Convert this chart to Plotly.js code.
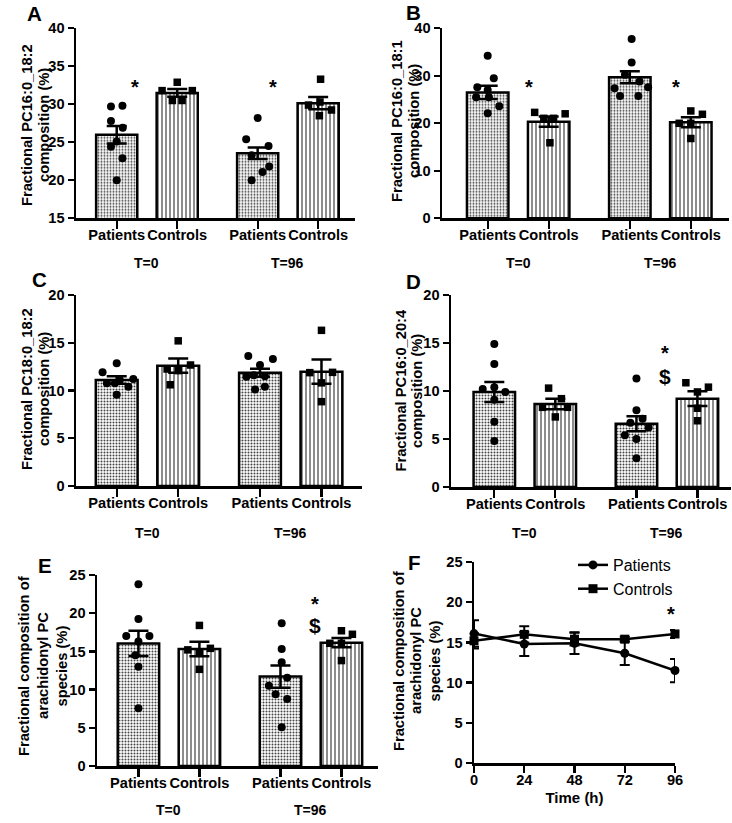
<!DOCTYPE html>
<html><head><meta charset="utf-8">
<script src="https://cdn.plot.ly/plotly-3.0.1.min.js"></script>
<style>html,body{margin:0;padding:0;background:#fff}#chart{width:732px;height:823px}</style>
</head><body><div id="chart"></div>
<script>
// ---------------- DATA ----------------
const groupLabels = ['Patients', 'Controls', 'Patients', 'Controls'];
const timeLabels = ['T=0', 'T=96'];

// Panel A  (bar means, SEM, individual values per bar: P T0, C T0, P T96, C T96)
const A_mean = [26.0, 31.5, 23.55, 30.15];
const A_sem = [1.15, 0.5, 0.75, 0.8];
const A_pts = [
  [29.7, 29.8, 27.8, 26.9, 25.1, 24.4, 22.9, 20.0],
  [31.8, 32.9, 31.8, 30.5, 30.5],
  [28.2, 25.4, 24.5, 23.3, 21.8, 21.1, 20.0],
  [33.3, 29.9, 30.3, 29.25, 28.5]
];
// Panel B
const B_mean = [26.5, 20.35, 29.7, 20.2];
const B_sem = [1.4, 1.1, 1.25, 1.05];
const B_pts = [
  [34.2, 29.5, 27.6, 27.0, 25.5, 25.5, 23.6, 22.1],
  [22.3, 22.0, 21.05, 21.05, 15.9],
  [37.75, 32.8, 30.2, 28.8, 27.6, 27.4, 25.75, 25.75],
  [22.6, 21.9, 20.0, 20.0, 16.8]
];
// Panel C
const C_mean = [11.1, 12.6, 11.87, 11.97];
const C_sem = [0.4, 0.75, 0.42, 1.27];
const C_pts = [
  [12.85, 11.9, 11.2, 11.1, 10.75, 10.75, 10.4, 9.55],
  [15.2, 12.67, 12.25, 12.08, 10.6],
  [13.6, 13.3, 12.67, 11.6, 11.5, 11.45, 10.4, 10.1],
  [16.3, 11.87, 11.9, 10.8, 8.83]
];
// Panel D
const D_mean = [9.9, 8.65, 6.6, 9.2];
const D_sem = [1.05, 0.55, 0.78, 0.77];
const D_pts = [
  [14.9, 12.8, 10.2, 10.4, 9.9, 9.1, 6.8, 4.8],
  [10.3, 9.2, 8.3, 8.3, 7.3],
  [11.3, 8.0, 7.1, 6.7, 6.2, 5.4, 5.0, 3.0],
  [10.86, 10.4, 9.9, 8.2, 6.9]
];
// Panel E
const E_mean = [16.05, 15.3, 11.7, 16.14];
const E_sem = [1.65, 0.95, 1.45, 0.6];
const E_pts = [
  [23.8, 19.25, 17.0, 17.0, 16.3, 14.5, 13.0, 7.55],
  [18.4, 15.2, 15.4, 14.75, 12.65],
  [18.7, 15.3, 13.57, 11.56, 10.5, 9.4, 8.77, 5.06],
  [17.7, 17.24, 16.06, 16.06, 13.8]
];
// Panel F (time course, mean +/- SEM)
const F_time = [0, 24, 48, 72, 96];
const F_pat_mean = [16.1, 14.8, 14.9, 13.65, 11.5];
const F_pat_sem = [1.65, 1.5, 1.35, 1.45, 1.45];
const F_con_mean = [15.2, 16.0, 15.4, 15.4, 16.05];
const F_con_sem = [0.95, 1.0, 0.8, 0.3, 0.5];

// ---------------- LAYOUT HELPERS (positions, not data) ----------------
// horizontal scatter of the individual dots inside each bar (x offset, category units)
const A_jit = [[-0.095,0.095,-0.095,0.1,0,-0.095,0.095,0],[-0.25,0,0.25,-0.08,0.08],[0,-0.19,0.18,-0.1,0.19,0.08,-0.1],[0.04,-0.16,0.03,0.22,0.02]];
const B_jit = [[0,0.1,-0.17,0,-0.19,0.02,0.19,0],[-0.23,0.27,-0.08,0.08,0.02],[0.03,0.03,-0.08,0.16,0.3,-0.25,-0.16,0.14],[0,0.19,-0.19,0,0]];
const C_jit = [[0,-0.23,0.27,0.05,-0.16,-0.03,0.19,0],[0,0.2,-0.18,0,-0.13],[-0.19,0.21,0,-0.1,0.08,-0.22,0.08,-0.08],[0,-0.19,0.18,0,0]];
const D_jit = [[0,0,-0.19,0,0.18,0,0,0],[-0.11,0.1,-0.21,0.2,0],[0,0,0.1,-0.1,0.2,-0.19,0,0],[-0.19,0.18,0,0,0]];
const E_jit = [[0,0,-0.2,0.18,0,-0.05,0,0],[0,-0.19,0.18,0,0],[0.02,0.02,0.02,0.11,-0.19,-0.08,0.11,0.02],[0,0.18,-0.19,0,0]];

const W = 732, H = 823;
const fx = p => p / W, fy = p => 1 - p / H;
const FONT = 'Liberation Sans, Arial, Helvetica, sans-serif';
const slotX = [0, 1, 2.33, 3.33];
const barW = 0.68;

const panels = [
  {letter:'A', mean:A_mean, sem:A_sem, pts:A_pts, jit:A_jit, dx:[76,355], dy:[28.3,218.3], xr:[-0.673,3.939], yr:[15,40], dtick:5,
   lp:[34.7,14], title:['Fractional PC16:0_18:2','composition (%)'], tx:[27,44], ty:125, Ty:263,
   sig:[{x:0.30,y:32.8,t:'*'},{x:2.59,y:32.85,t:'*'}]},
  {letter:'B', mean:B_mean, sem:B_sem, pts:B_pts, jit:B_jit, dx:[442,729], dy:[28.3,218.3], xr:[-0.749,3.956], yr:[0,40], dtick:10,
   lp:[413,13], title:['Fractional PC16:0_18:1','composition (%)'], tx:[397,414], ty:121, Ty:263,
   sig:[{x:0.68,y:28.4,t:'*'},{x:3.09,y:28.4,t:'*'}]},
  {letter:'C', mean:C_mean, sem:C_sem, pts:C_pts, jit:C_jit, dx:[76,362], dy:[295,486], xr:[-0.662,3.989], yr:[0,20], dtick:5,
   lp:[39,280], title:['Fractional PC18:0_18:2','composition (%)'], tx:[27,44], ty:389, Ty:533, sig:[]},
  {letter:'D', mean:D_mean, sem:D_sem, pts:D_pts, jit:D_jit, dx:[451,731], dy:[295,487], xr:[-0.71,3.88], yr:[0,20], dtick:5,
   lp:[413,281], title:['Fractional PC16:0_20:4','composition (%)'], tx:[400.5,417], ty:391, Ty:533,
   sig:[{x:2.8,y:14.4,t:'*'},{x:2.8,y:11.5,t:'$'}]},
  {letter:'E', mean:E_mean, sem:E_sem, pts:E_pts, jit:E_jit, dx:[97,378], dy:[575,766], xr:[-0.68,3.93], yr:[0,25], dtick:5,
   lp:[44.5,565], title:['Fractional composition of','arachidonyl PC','species (%)'], tx:[24,43,61.5], ty:666, Ty:810,
   sig:[{x:2.9,y:21.7,t:'*'},{x:2.9,y:18.45,t:'$'}]}
];

const axisLine = {showline:true, linecolor:'black', linewidth:2.5, ticks:'outside', tickcolor:'black',
  tickwidth:2.2, showgrid:false, zeroline:false, fixedrange:true};
const tickFont = {family:FONT, size:14.6, color:'black', weight:'bold'};

const traces = [];
const annotations = [];
const layout = {
  width:W, height:H, margin:{l:0,r:0,t:0,b:0}, paper_bgcolor:'white', plot_bgcolor:'white',
  showlegend:true, font:{family:FONT, color:'black'},
  legend:{x:fx(573), y:fy(548), xanchor:'left', yanchor:'top', bgcolor:'rgba(0,0,0,0)',
    font:{family:FONT, size:16, color:'black'}, itemwidth:30, tracegroupgap:0},
  annotations:annotations
};

function addTitle(lines, xs, yc) {
  lines.forEach((t, j) => annotations.push({text:t, xref:'paper', yref:'paper', x:fx(xs[j]), y:fy(yc),
    xanchor:'center', yanchor:'middle', textangle:-90, showarrow:false, borderpad:0,
    font:{family:FONT, size:14.7, color:'black', weight:'bold'}}));
}
function addLetter(l, pos) {
  annotations.push({text:l, xref:'paper', yref:'paper', x:fx(pos[0]), y:fy(pos[1]), xanchor:'center', yanchor:'middle',
    showarrow:false, borderpad:0, font:{family:FONT, size:20.5, color:'black', weight:'bold'}});
}

panels.forEach((p, i) => {
  const k = i + 1;
  const xa = 'x' + (k > 1 ? k : ''), ya = 'y' + (k > 1 ? k : '');
  layout['xaxis' + (k > 1 ? k : '')] = Object.assign({}, axisLine, {
    domain:[fx(p.dx[0]), fx(p.dx[1])], range:p.xr, anchor:ya, tickmode:'array', tickvals:slotX, ticktext:groupLabels,
    ticklen:8, ticklabelstandoff:-6, tickfont:tickFont});
  layout['yaxis' + (k > 1 ? k : '')] = Object.assign({}, axisLine, {
    domain:[fy(p.dy[1]), fy(p.dy[0])], range:p.yr, anchor:xa, dtick:p.dtick, tick0:0, ticklen:6, tickfont:tickFont});

  traces.push({type:'bar', x:slotX, y:p.mean, width:barW, xaxis:xa, yaxis:ya, showlegend:false, hoverinfo:'skip',
    marker:{color:'white', line:{color:'black', width:2.5},
      pattern:{shape:['.','|','.','|'], size:[3,4,3,4], solidity:[0.36,0.28,0.36,0.28], fgcolor:['#444','#333','#444','#333'], bgcolor:'white', fillmode:'replace'}},
    error_y:{type:'data', array:p.sem, visible:true, color:'black', thickness:2.5, width:10}});

  [[0,2,'circle',8],[1,3,'square',7.5]].forEach(([s1, s2, sym, sz]) => {
    const xs = [], ys = [];
    [s1, s2].forEach(s => p.pts[s].forEach((v, j) => { xs.push(slotX[s] + p.jit[s][j]); ys.push(v); }));
    traces.push({type:'scatter', mode:'markers', x:xs, y:ys, xaxis:xa, yaxis:ya, showlegend:false, hoverinfo:'skip',
      cliponaxis:false, marker:{symbol:sym, size:sz, color:'black'}});
  });

  addLetter(p.letter, p.lp);
  addTitle(p.title, p.tx, p.ty);
  timeLabels.forEach((t, j) => annotations.push({text:t, xref:xa, yref:'paper', x:(slotX[2*j] + slotX[2*j+1]) / 2,
    y:fy(p.Ty), xanchor:'center', yanchor:'middle', showarrow:false, font:{family:FONT, size:14, color:'black', weight:'bold'}}));
  p.sig.forEach(s => annotations.push({text:s.t, xref:xa, yref:ya, x:s.x, y:s.y, xanchor:'center', yanchor:'middle',
    showarrow:false, yshift:(s.t === '*' ? -4 : 0), font:{family:FONT, size:(s.t === '*' ? 20 : 21), color:'black', weight:'bold'}}));
});

// Panel F
layout.xaxis6 = Object.assign({}, axisLine, {domain:[fx(474), fx(675)], range:[0,96], anchor:'y6', tickmode:'array',
  tickvals:F_time, ticklen:7, ticklabelstandoff:-5, tickfont:tickFont,
  title:{text:'Time (h)', font:{family:FONT, size:15, color:'black', weight:'bold'}, standoff:6}});
layout.yaxis6 = Object.assign({}, axisLine, {domain:[fy(763), fy(562)], range:[0,25], anchor:'x6', dtick:5, tick0:0,
  ticklen:6, tickfont:tickFont});
traces.push({type:'scatter', mode:'lines+markers', name:'Patients', x:F_time, y:F_pat_mean, xaxis:'x6', yaxis:'y6',
  cliponaxis:false, line:{color:'black', width:2.5}, marker:{symbol:'circle', size:9, color:'black'},
  error_y:{type:'data', array:F_pat_sem, visible:true, color:'black', thickness:2, width:5}});
traces.push({type:'scatter', mode:'lines+markers', name:'Controls', x:F_time, y:F_con_mean, xaxis:'x6', yaxis:'y6',
  cliponaxis:false, line:{color:'black', width:2.5}, marker:{symbol:'square', size:9, color:'black'},
  error_y:{type:'data', array:F_con_sem, visible:true, color:'black', thickness:2, width:5}});
addLetter('F', [414.5, 562]);
addTitle(['Fractional composition of','arachidonyl PC','species (%)'], [399, 416, 434.5], 661);
annotations.push({text:'*', xref:'x6', yref:'y6', x:94.1, y:19.0, xanchor:'center', yanchor:'middle', showarrow:false,
  yshift:-4, font:{family:FONT, size:20, color:'black', weight:'bold'}});

Plotly.newPlot('chart', traces, layout, {displayModeBar:false, staticPlot:true});
</script></body></html>
